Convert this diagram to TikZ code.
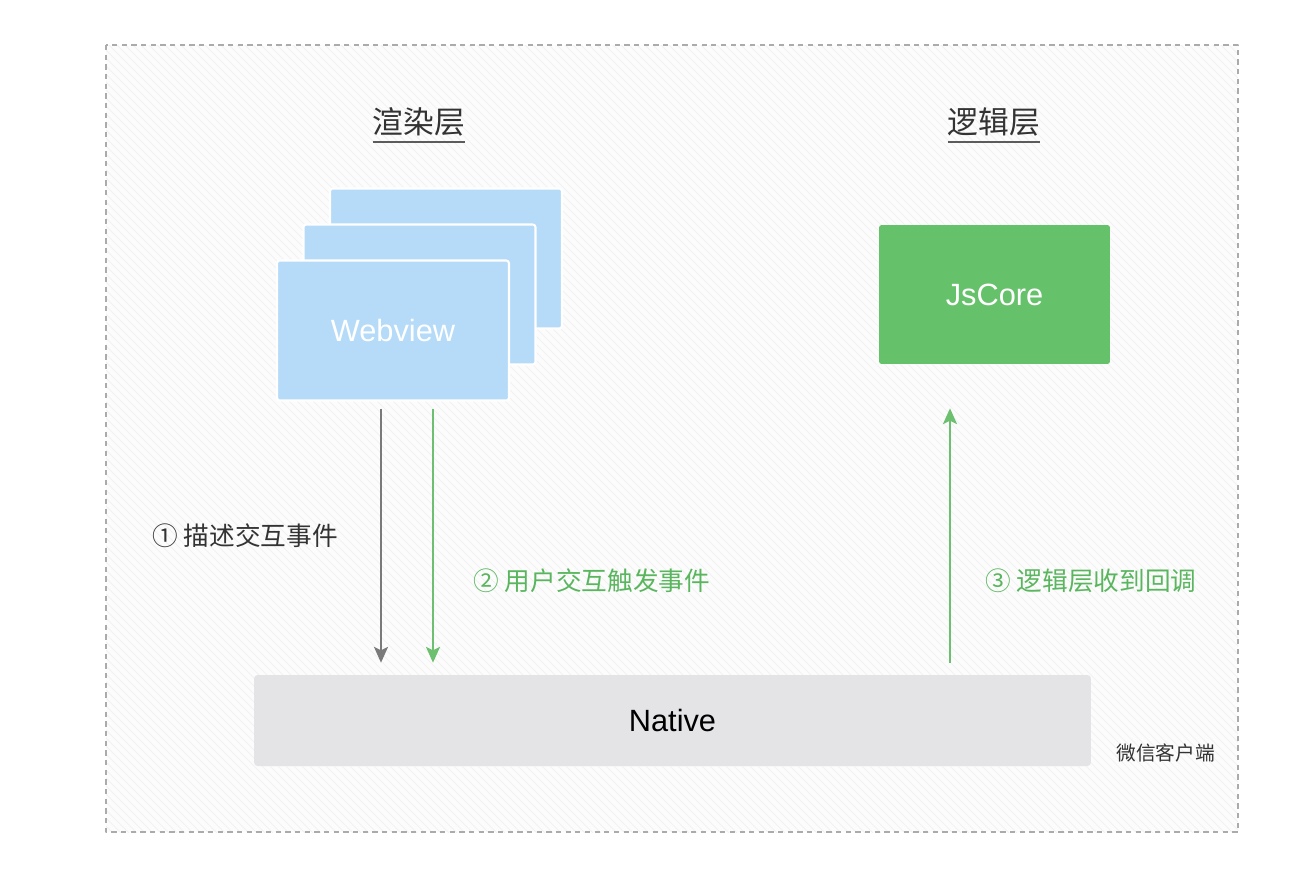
\documentclass[tikz,border=0pt]{standalone}
\usepackage{fontspec}
\setmainfont{Noto Sans CJK SC}
\newfontfamily\latinfont{Liberation Sans}
\usetikzlibrary{arrows.meta}

\definecolor{webblue}{HTML}{B5DBF8}
\definecolor{coregreen}{HTML}{66C26A}
\definecolor{nativegray}{HTML}{E4E4E6}
\definecolor{labelgreen}{HTML}{5AB65E}
\definecolor{arrowgreen}{HTML}{6CC070}
\definecolor{arrowgray}{HTML}{7A7A7A}
\definecolor{framegray}{HTML}{ABABAB}
\definecolor{textdark}{HTML}{333333}

\begin{document}
\begin{tikzpicture}[x=0.02cm,y=-0.02cm,line join=round,
  page/.style={fill=webblue,draw=white,line width=1.2pt,rounded corners=1.5pt,
    inner sep=0pt,minimum width=4.64cm,minimum height=2.8cm},
  boxtext/.style={text=white,font=\latinfont\fontsize{17.5pt}{20pt}\selectfont},
  title/.style={text=textdark,inner sep=0pt,font=\fontsize{17.5pt}{20pt}\selectfont},
  label/.style={anchor=west,inner sep=0pt,font=\fontsize{14.6pt}{17pt}\selectfont},
  flow/.style={line width=1.1pt,-{Stealth[length=9pt,width=8pt,inset=2pt]}}
]

% page size
\useasboundingbox (0,0) rectangle (1308,894);

% outer frame (client) with faint hatching
\fill[white] (0,0) rectangle (1308,894);
\begin{scope}
  \clip (106,45) rectangle (1238,832);
  \fill[black!1] (106,45) rectangle (1238,832);
  \foreach \s in {-800,-792,...,1240}{
    \draw[black!5,line width=0.5pt] (\s,40) -- ++(800,800);
  }
\end{scope}
\draw[framegray,line width=0.8pt,dash pattern=on 3pt off 2.5pt] (106,45) rectangle (1238,832);

% layer titles
\node[title] (render) at (419,122) {渲染层};
\node[title] (logic) at (994,122) {逻辑层};
\draw[textdark!80,line width=1.1pt] ([yshift=-3pt]render.south west) -- ([yshift=-3pt]render.south east);
\draw[textdark!80,line width=1.1pt] ([yshift=-3pt]logic.south west) -- ([yshift=-3pt]logic.south east);

% webview stack
\node[page] (webback) at (446,258.5) {};
\node[page] (webmid) at (419.5,294.5) {};
\node[page,boxtext] (webview) at (393,330.5) {Webview};

% jscore
\node[fill=coregreen,rounded corners=1.5pt,inner sep=0pt,minimum width=4.62cm,
  minimum height=2.78cm,boxtext] (jscore) at (994.5,294.5) {JsCore};

% native
\node[fill=nativegray,rounded corners=2pt,inner sep=0pt,minimum width=16.74cm,
  minimum height=1.82cm,text=black,font=\latinfont\fontsize{17.5pt}{20pt}\selectfont]
  (native) at (672.5,720.5) {Native};
\node[anchor=west,inner sep=0pt,text=textdark,font=\fontsize{11.2pt}{13pt}\selectfont]
  (client) at (1116,753) {微信客户端};

% arrow columns
\coordinate (col1) at (381,0);
\coordinate (col2) at (433,0);
\coordinate (col3) at (950,0);

% flows
\draw[flow,arrowgray,shorten <=0.14cm,shorten >=0.24cm] (webview.south -| col1) -- (native.north -| col1);
\draw[flow,arrowgreen,shorten <=0.14cm,shorten >=0.24cm] (webview.south -| col2) -- (native.north -| col2);
\draw[flow,arrowgreen,shorten <=0.24cm,shorten >=0.88cm] (native.north -| col3) -- (jscore.south -| col3);

% labels
\node[label,text=textdark] (step1) at (152,536) {① 描述交互事件};
\node[label,text=labelgreen] (step2) at (473,581) {② 用户交互触发事件};
\node[label,text=labelgreen] (step3) at (985,581) {③ 逻辑层收到回调};

\end{tikzpicture}
\end{document}
